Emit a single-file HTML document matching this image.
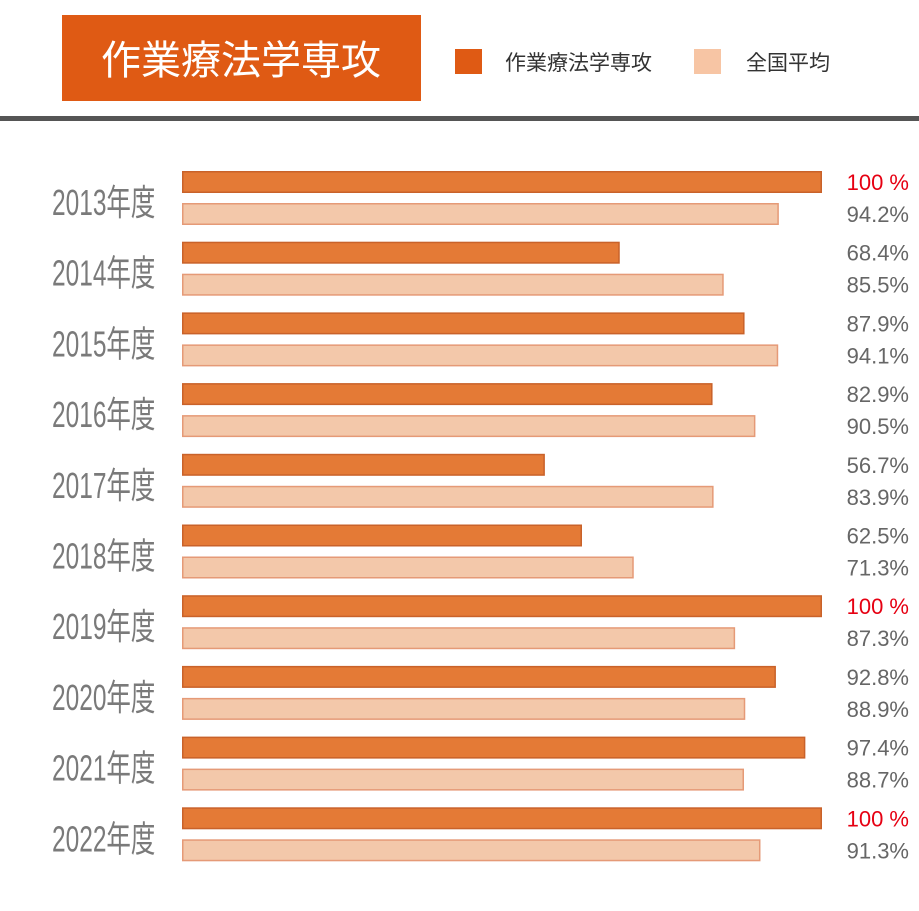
<!DOCTYPE html>
<html><head><meta charset="utf-8"><style>
body{margin:0;background:#fff;width:919px;height:911px;overflow:hidden}
svg{display:block}
</style></head><body>
<svg id="chart" width="919" height="911" xmlns="http://www.w3.org/2000/svg" font-family="'Liberation Sans','Noto Sans CJK JP',sans-serif">
<rect x="62" y="15" width="359" height="86" fill="#df5a14"/>
<text x="241" y="74" font-size="40" fill="#fff" text-anchor="middle">作業療法学専攻</text>
<rect x="455" y="49" width="27" height="25" fill="#df5a14"/>
<text x="505" y="70" font-size="21" fill="#333">作業療法学専攻</text>
<rect x="694" y="49" width="27" height="25" fill="#f7c5a4"/>
<text x="746" y="70" font-size="21" fill="#333">全国平均</text>
<rect x="0" y="116" width="919" height="5" fill="#555"/>
<g id="bars"></g>
</svg>
<script>
const years = ["2013","2014","2015","2016","2017","2018","2019","2020","2021","2022"];
const majorValues = [100,68.4,87.9,82.9,56.7,62.5,100,92.8,97.4,100];
const nationalValues = [94.2,85.5,94.1,90.5,83.9,71.3,87.3,88.9,88.7,91.3];
const NS="http://www.w3.org/2000/svg";
const g=document.getElementById('bars');
const x0=182, scale=6.4;
function xLen(v){return v*scale;}
function rowY(i){return 171+i*70.7;}
function mk(tag,attrs){const e=document.createElementNS(NS,tag);for(const k in attrs)e.setAttribute(k,attrs[k]);g.appendChild(e);return e;}
years.forEach((yr,i)=>{
  const y=rowY(i);
  const t=mk('text',{x:0,y:0,'font-size':36,fill:'#7a7a7a',transform:`translate(52,${y+44}) scale(0.68,1)`,'font-family':"'Liberation Sans Narrow','Liberation Sans','Noto Sans CJK JP',sans-serif"});
  
  
  t.textContent=yr+'年度';
  const b1=mk('rect',{x:x0+0.75,y:y+0.75,width:xLen(majorValues[i])-1.5,height:20.5,fill:'#e47a36',stroke:'#c9622a','stroke-width':1.5});
  
  
  const b2=mk('rect',{x:x0+0.75,y:y+32.75,width:xLen(nationalValues[i])*0.99-1.5,height:20.5,fill:'#f3c8aa',stroke:'#e59a77','stroke-width':1.5});
  
  
  const full=majorValues[i]>=100;
  const l1=mk('text',{x:909,y:y+19,'font-size':22,'text-anchor':'end',fill:full?'#e60012':'#666'});
  
  
  l1.textContent=full?'100 %':majorValues[i].toFixed(1)+'%';
  const l2=mk('text',{x:909,y:y+51,'font-size':22,'text-anchor':'end',fill:'#666'});
  
  
  l2.textContent=nationalValues[i].toFixed(1)+'%';
});
</script>
</body></html>
